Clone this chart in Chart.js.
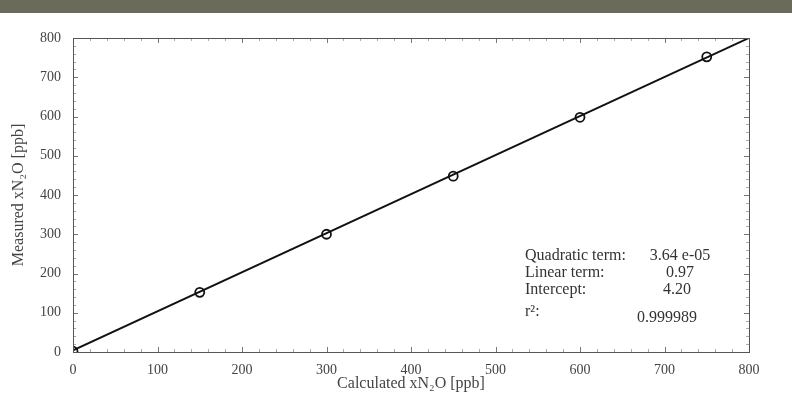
<!DOCTYPE html>
<html>
<head>
<meta charset="utf-8">
<script src="https://cdn.jsdelivr.net/npm/chart.js@4/dist/chart.umd.min.js"></script>
<style>
  body { margin: 0; background: #fff; }
  #band { position: absolute; left: 0; top: 0; width: 792px; height: 13px; background: #6a6b5b; }
  #wrap { position: absolute; left: 0; top: 0; width: 792px; height: 415px; }
</style>
</head>
<body>
<div id="wrap"><canvas id="c" width="792" height="415"></canvas></div>
<div id="band"></div>
<script>
// measured calibration points
const calcX = [0, 150, 300, 450, 600, 750];
const measY = [2, 152, 300, 448, 598, 752];

// fitted curve
const fitX = [0, 800];
const fitY = [4, 800];

const tickValues = [0, 100, 200, 300, 400, 500, 600, 700, 800];

const fitLabels = ["Quadratic term:", "Linear term:", "Intercept:", "r\u00B2:"];
const fitValues = ["3.64 e-05", "0.97", "4.20", "0.999989"];

const serif = "'Liberation Serif', 'DejaVu Serif', serif";

// inward ticks on all four sides + box
const boxTicks = {
    id: "boxTicks",
    afterDraw(chart) {
        const ctx = chart.ctx;
        const a = chart.chartArea;
        const xs = chart.scales.x, ys = chart.scales.y;
        ctx.save();
        for (let v = 0; v <= 800; v += 20) {
            const major = v % 100 === 0;
            const len = major ? 5 : 3;
            ctx.strokeStyle = major ? "#777" : "#aaa";
            ctx.lineWidth = 1;
            const px = Math.round(xs.getPixelForValue(v)) + 0.5;
            const py = Math.round(ys.getPixelForValue(v)) + 0.5;
            ctx.beginPath();
            ctx.moveTo(px, a.bottom); ctx.lineTo(px, a.bottom - len);
            ctx.moveTo(px, a.top); ctx.lineTo(px, a.top + len);
            ctx.moveTo(a.left, py); ctx.lineTo(a.left + len, py);
            ctx.moveTo(a.right, py); ctx.lineTo(a.right - len, py);
            ctx.stroke();
        }
        ctx.strokeStyle = "#555";
        ctx.lineWidth = 1;
        ctx.strokeRect(Math.round(a.left) + 0.5, Math.round(a.top) + 0.5,
                       Math.round(a.right - a.left), Math.round(a.bottom - a.top));

        // fit results text
        ctx.fillStyle = "#333";
        ctx.font = "16px " + serif;
        ctx.textBaseline = "middle";
        const rows = [256, 273, 290, 312];
        fitLabels.forEach((t, i) => {
            ctx.textAlign = "left";
            ctx.fillText(t, 525, rows[i]);
        });
        const valX = [680, 680, 677, 667];
        const valOff = [0, 0, 0, 6];
        fitValues.forEach((t, i) => {
            ctx.textAlign = "center";
            ctx.fillText(t, valX[i], rows[i] + valOff[i]);
        });
        ctx.restore();
    }
};

new Chart(document.getElementById("c"), {
    type: "scatter",
    data: {
        datasets: [
            {
                data: fitX.map((x, i) => ({ x: x, y: fitY[i] })),
                showLine: true,
                borderColor: "#111",
                borderWidth: 2,
                pointRadius: 0
            },
            {
                data: calcX.map((x, i) => ({ x: x, y: measY[i] })),
                showLine: false,
                pointStyle: "circle",
                pointRadius: 4.5,
                borderColor: "#111",
                borderWidth: 1.8,
                backgroundColor: "rgba(0,0,0,0)"
            }
        ]
    },
    options: {
        responsive: false,
        animation: false,
        layout: { padding: { left: 9, right: 43, top: 38, bottom: 22 } },
        plugins: { legend: { display: false }, tooltip: { enabled: false } },
        scales: {
            x: {
                type: "linear", min: 0, max: 800,
                afterBuildTicks: s => { s.ticks = tickValues.map(v => ({ value: v })); },
                afterFit: s => { s.height = 41; },
                grid: { display: false },
                border: { display: false },
                ticks: { color: "#444", font: { family: serif, size: 14 }, padding: 2 },
                title: {
                    display: true, text: "Calculated xN\u2082O [ppb]", color: "#444",
                    font: { family: serif, size: 16 }, padding: { top: 0, bottom: 0 }
                }
            },
            y: {
                type: "linear", min: 0, max: 800,
                afterBuildTicks: s => { s.ticks = tickValues.map(v => ({ value: v })); },
                afterFit: s => { s.width = 64; },
                grid: { display: false },
                border: { display: false },
                ticks: { color: "#444", font: { family: serif, size: 14 }, padding: 4 },
                title: {
                    display: true, text: "Measured xN\u2082O [ppb]", color: "#444",
                    font: { family: serif, size: 16 }, padding: { top: 0, bottom: 0 }
                }
            }
        }
    },
    plugins: [boxTicks]
});
</script>
</body>
</html>
